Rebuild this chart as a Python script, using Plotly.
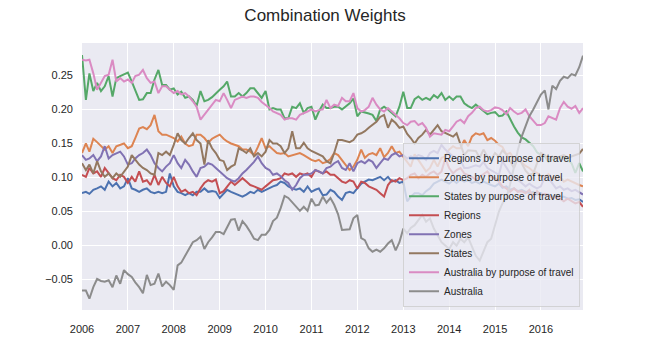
import pandas as pd
import plotly.graph_objects as go

months = pd.date_range("2006-01-01", periods=132, freq="MS")

regions_purpose = [
    0.077, 0.079, 0.076, 0.082, 0.084, 0.087, 0.082, 0.094, 0.087, 0.092, 0.084, 0.087,
    0.099, 0.084, 0.082, 0.079, 0.082, 0.084, 0.079, 0.077, 0.079, 0.077, 0.079, 0.106,
    0.087, 0.079, 0.077, 0.074, 0.077, 0.074, 0.079, 0.079, 0.084, 0.079, 0.080, 0.079,
    0.070, 0.077, 0.082, 0.079, 0.077, 0.074, 0.072, 0.075, 0.079, 0.077, 0.082, 0.079,
    0.082, 0.084, 0.087, 0.089, 0.094, 0.092, 0.087, 0.084, 0.082, 0.084, 0.079, 0.087,
    0.079, 0.082, 0.084, 0.074, 0.075, 0.082, 0.079, 0.072, 0.067, 0.077, 0.079, 0.077,
    0.084, 0.091, 0.094, 0.097, 0.096, 0.099, 0.101, 0.096, 0.101, 0.094, 0.096, 0.092,
    0.094, 0.065, 0.072, 0.077, 0.077, 0.074, 0.080, 0.084, 0.091, 0.094, 0.097, 0.094,
    0.091, 0.096, 0.092, 0.097, 0.094, 0.096, 0.092, 0.094, 0.091, 0.094, 0.091, 0.089,
    0.087, 0.091, 0.085, 0.087, 0.082, 0.084, 0.080, 0.082, 0.079, 0.077, 0.079, 0.075,
    0.077, 0.074, 0.075, 0.072, 0.074, 0.070, 0.072, 0.069, 0.070, 0.067, 0.068, 0.064,
]

zones_purpose = [
    0.136, 0.150, 0.138, 0.157, 0.152, 0.146, 0.141, 0.146, 0.136, 0.146, 0.148, 0.150,
    0.143, 0.146, 0.158, 0.172, 0.174, 0.171, 0.177, 0.192, 0.168, 0.163, 0.163, 0.160,
    0.158, 0.153, 0.160, 0.150, 0.146, 0.148, 0.163, 0.163, 0.158, 0.151, 0.157, 0.160,
    0.163, 0.157, 0.153, 0.150, 0.148, 0.146, 0.141, 0.141, 0.138, 0.133, 0.145, 0.158,
    0.143, 0.146, 0.141, 0.136, 0.135, 0.136, 0.131, 0.133, 0.134, 0.136, 0.133, 0.129,
    0.126, 0.124, 0.126, 0.121, 0.123, 0.127, 0.136, 0.133, 0.126, 0.119, 0.111, 0.116,
    0.126, 0.141, 0.129, 0.134, 0.136, 0.133, 0.143, 0.130, 0.136, 0.146, 0.136, 0.138,
    0.131, 0.124, 0.116, 0.134, 0.126, 0.116, 0.109, 0.114, 0.126, 0.116, 0.129, 0.131,
    0.141, 0.146, 0.143, 0.143, 0.155, 0.146, 0.160, 0.165, 0.163, 0.165, 0.155, 0.158,
    0.154, 0.148, 0.145, 0.134, 0.136, 0.128, 0.128, 0.122, 0.117, 0.114, 0.109, 0.107,
    0.102, 0.100, 0.105, 0.100, 0.098, 0.101, 0.094, 0.097, 0.094, 0.092, 0.089, 0.087,
]

states_purpose = [
    0.280, 0.214, 0.253, 0.227, 0.239, 0.227, 0.234, 0.249, 0.219, 0.246, 0.249, 0.251,
    0.254, 0.241, 0.227, 0.214, 0.215, 0.224, 0.224, 0.244, 0.258, 0.236, 0.236, 0.229,
    0.231, 0.222, 0.226, 0.217, 0.219, 0.214, 0.205, 0.227, 0.212, 0.214, 0.218, 0.224,
    0.229, 0.234, 0.241, 0.219, 0.219, 0.224, 0.219, 0.224, 0.231, 0.231, 0.224, 0.217,
    0.227, 0.200, 0.202, 0.200, 0.200, 0.187, 0.187, 0.204, 0.202, 0.209, 0.195, 0.202,
    0.204, 0.185, 0.197, 0.207, 0.202, 0.202, 0.204, 0.204, 0.200, 0.204, 0.209, 0.216,
    0.190, 0.197, 0.195, 0.194, 0.192, 0.183, 0.200, 0.204, 0.200, 0.195, 0.190, 0.204,
    0.226, 0.202, 0.202, 0.215, 0.219, 0.214, 0.217, 0.214, 0.221, 0.217, 0.224, 0.214,
    0.219, 0.214, 0.219, 0.219, 0.209, 0.205, 0.202, 0.207, 0.202, 0.197, 0.193, 0.195,
    0.196, 0.190, 0.191, 0.197, 0.185, 0.175, 0.166, 0.159, 0.156, 0.151, 0.146, 0.137,
    0.133, 0.131, 0.123, 0.127, 0.129, 0.130, 0.131, 0.126, 0.121, 0.107, 0.121, 0.109,
]

regions = [
    0.104, 0.101, 0.114, 0.106, 0.109, 0.101, 0.114, 0.106, 0.099, 0.096, 0.104, 0.101,
    0.092, 0.101, 0.094, 0.109, 0.094, 0.096, 0.089, 0.104, 0.089, 0.101, 0.092, 0.087,
    0.101, 0.087, 0.079, 0.082, 0.077, 0.079, 0.074, 0.084, 0.092, 0.096, 0.094, 0.097,
    0.077, 0.080, 0.087, 0.094, 0.089, 0.094, 0.099, 0.094, 0.089, 0.087, 0.084, 0.082,
    0.087, 0.092, 0.096, 0.097, 0.099, 0.106, 0.104, 0.106, 0.101, 0.106, 0.104, 0.106,
    0.101, 0.111, 0.109, 0.106, 0.109, 0.104, 0.104, 0.099, 0.094, 0.092, 0.096, 0.094,
    0.084, 0.094, 0.092, 0.087, 0.084, 0.082, 0.077, 0.072, 0.089, 0.096, 0.094, 0.099,
    0.096, 0.099, 0.104, 0.106, 0.099, 0.104, 0.101, 0.106, 0.109, 0.104, 0.109, 0.128,
    0.114, 0.106, 0.111, 0.114, 0.106, 0.104, 0.101, 0.097, 0.101, 0.104, 0.109, 0.101,
    0.099, 0.094, 0.087, 0.084, 0.079, 0.084, 0.079, 0.080, 0.077, 0.082, 0.072, 0.080,
    0.074, 0.076, 0.074, 0.069, 0.072, 0.069, 0.065, 0.069, 0.065, 0.062, 0.064, 0.057,
]

zones = [
    0.133, 0.126, 0.128, 0.133, 0.124, 0.131, 0.146, 0.128, 0.133, 0.136, 0.138, 0.131,
    0.119, 0.121, 0.128, 0.133, 0.136, 0.141, 0.133, 0.121, 0.114, 0.109, 0.116, 0.121,
    0.133, 0.121, 0.114, 0.126, 0.119, 0.109, 0.101, 0.114, 0.116, 0.121, 0.119, 0.114,
    0.109, 0.104, 0.099, 0.096, 0.094, 0.099, 0.106, 0.111, 0.117, 0.123, 0.131, 0.121,
    0.114, 0.111, 0.104, 0.106, 0.102, 0.096, 0.092, 0.082, 0.089, 0.099, 0.104, 0.104,
    0.106, 0.111, 0.109, 0.106, 0.114, 0.116, 0.121, 0.124, 0.114, 0.111, 0.121, 0.109,
    0.121, 0.124, 0.121, 0.126, 0.123, 0.114, 0.121, 0.128, 0.126, 0.133, 0.136, 0.131,
    0.133, 0.128, 0.131, 0.129, 0.133, 0.131, 0.126, 0.136, 0.139, 0.136, 0.148, 0.141,
    0.136, 0.131, 0.128, 0.126, 0.114, 0.114, 0.116, 0.118, 0.116, 0.123, 0.114, 0.111,
    0.108, 0.104, 0.124, 0.114, 0.106, 0.101, 0.097, 0.092, 0.087, 0.091, 0.087, 0.084,
    0.087, 0.101, 0.099, 0.092, 0.084, 0.087, 0.082, 0.084, 0.080, 0.082, 0.079, 0.075,
]

states = [
    0.121, 0.111, 0.119, 0.106, 0.124, 0.109, 0.101, 0.106, 0.099, 0.106, 0.101, 0.109,
    0.116, 0.133, 0.126, 0.119, 0.114, 0.111, 0.106, 0.104, 0.136, 0.133, 0.138, 0.133,
    0.148, 0.165, 0.155, 0.150, 0.158, 0.165, 0.155, 0.150, 0.119, 0.155, 0.143, 0.136,
    0.126, 0.124, 0.111, 0.116, 0.119, 0.143, 0.140, 0.136, 0.143, 0.131, 0.136, 0.131,
    0.138, 0.155, 0.150, 0.150, 0.146, 0.136, 0.143, 0.168, 0.143, 0.143, 0.151, 0.143,
    0.139, 0.136, 0.134, 0.131, 0.124, 0.121, 0.136, 0.155, 0.155, 0.153, 0.152, 0.155,
    0.163, 0.165, 0.168, 0.173, 0.177, 0.182, 0.189, 0.192, 0.173, 0.185, 0.180, 0.173,
    0.175, 0.164, 0.158, 0.150, 0.158, 0.163, 0.170, 0.163, 0.170, 0.177, 0.168, 0.165,
    0.163, 0.160, 0.165, 0.148, 0.133, 0.140, 0.140, 0.139, 0.129, 0.141, 0.131, 0.126,
    0.136, 0.131, 0.140, 0.134, 0.124, 0.114, 0.128, 0.121, 0.110, 0.104, 0.106, 0.121,
    0.136, 0.133, 0.126, 0.131, 0.128, 0.131, 0.133, 0.129, 0.131, 0.134, 0.135, 0.142,
]

australia_purpose = [
    0.273, 0.272, 0.273, 0.253, 0.229, 0.239, 0.249, 0.251, 0.273, 0.241, 0.246, 0.241,
    0.244, 0.239, 0.249, 0.251, 0.258, 0.246, 0.239, 0.241, 0.224, 0.234, 0.234, 0.229,
    0.224, 0.227, 0.222, 0.224, 0.219, 0.212, 0.204, 0.185, 0.192, 0.200, 0.207, 0.214,
    0.212, 0.224, 0.214, 0.202, 0.214, 0.217, 0.219, 0.217, 0.219, 0.219, 0.217, 0.211,
    0.207, 0.202, 0.197, 0.195, 0.192, 0.185, 0.187, 0.187, 0.185, 0.192, 0.194, 0.197,
    0.200, 0.197, 0.199, 0.200, 0.214, 0.202, 0.207, 0.205, 0.217, 0.212, 0.212, 0.224,
    0.202, 0.197, 0.199, 0.204, 0.217, 0.207, 0.200, 0.197, 0.202, 0.197, 0.192, 0.187,
    0.180, 0.177, 0.182, 0.183, 0.177, 0.180, 0.173, 0.160, 0.165, 0.164, 0.163, 0.170,
    0.168, 0.175, 0.182, 0.185, 0.180, 0.190, 0.195, 0.202, 0.204, 0.199, 0.197, 0.199,
    0.203, 0.202, 0.199, 0.193, 0.202, 0.197, 0.193, 0.195, 0.200, 0.190, 0.183, 0.177,
    0.177, 0.180, 0.190, 0.187, 0.185, 0.202, 0.211, 0.204, 0.201, 0.205, 0.195, 0.202,
]

australia = [
    -0.066, -0.066, -0.078, -0.061, -0.049, -0.052, -0.053, -0.051, -0.061, -0.044, -0.056, -0.036,
    -0.042, -0.046, -0.054, -0.061, -0.070, -0.043, -0.058, -0.056, -0.041, -0.060, -0.053, -0.058,
    -0.065, -0.029, -0.025, -0.015, -0.007, 0.005, 0.008, 0.013, -0.005, 0.005, 0.012, 0.020,
    0.020, 0.017, 0.027, 0.038, 0.039, 0.022, 0.036, 0.029, 0.020, 0.010, 0.008, 0.016,
    0.016, 0.023, 0.036, 0.041, 0.055, 0.073, 0.070, 0.064, 0.057, 0.051, 0.057, 0.051,
    0.069, 0.059, 0.060, 0.072, 0.063, 0.070, 0.060, 0.046, 0.023, 0.023, 0.024, 0.040,
    0.045, 0.011, 0.008, -0.004, -0.009, -0.006, -0.009, -0.004, 0.003, 0.008, -0.007, 0.005,
    0.025, 0.018, 0.026, 0.030, 0.037, 0.045, 0.035, 0.040, 0.025, 0.015, 0.005, 0.000,
    -0.005, 0.005, 0.000, 0.010, 0.005, 0.012, 0.000, -0.015, -0.022, -0.010, 0.005, 0.010,
    0.030, 0.050, 0.062, 0.070, 0.090, 0.115, 0.140, 0.160, 0.175, 0.190, 0.200, 0.210,
    0.222, 0.228, 0.200, 0.235, 0.230, 0.242, 0.248, 0.246, 0.252, 0.250, 0.262, 0.279,
]

series_names = [
    "Regions by purpose of travel",
    "Zones by purpose of travel",
    "States by purpose of travel",
    "Regions",
    "Zones",
    "States",
    "Australia by purpose of travel",
    "Australia",
]
series_values = [regions_purpose, zones_purpose, states_purpose, regions,
                 zones, states, australia_purpose, australia]
colors = ["#4C72B0", "#DD8452", "#55A868", "#C44E52",
          "#8172B3", "#937860", "#DA8BC3", "#8C8C8C"]

year_ticks = pd.date_range("2006-01-01", "2016-01-01", freq="YS")
ytick_vals = [-0.05, 0.0, 0.05, 0.10, 0.15, 0.20, 0.25]

fig = go.Figure()
for name, vals, col in zip(series_names, series_values, colors):
    fig.add_trace(go.Scatter(x=months, y=vals, mode="lines", name=name,
                             line=dict(color=col, width=2)))

W, H = 650, 350
font_family = "Liberation Sans, Arial, DejaVu Sans, sans-serif"
fig.update_layout(
    width=W, height=H,
    margin=dict(l=82, r=67, t=43, b=40, autoexpand=False),
    paper_bgcolor="white",
    plot_bgcolor="#EAEAF2",
    font=dict(family=font_family, color="#262626", size=11),
    title=dict(text="Combination Weights", x=0.5, xref="container", xanchor="center",
               y=1 - 15 / H, yref="container", yanchor="middle",
               font=dict(size=17, color="#262626", family=font_family)),
    showlegend=True,
    legend=dict(x=0.994, y=0.012, xanchor="right", yanchor="bottom",
                bgcolor="rgba(234,234,242,0.8)", bordercolor="rgba(204,204,204,0.8)",
                borderwidth=1, font=dict(size=10, color="#262626"),
                itemwidth=30, tracegroupgap=0),
)
fig.update_xaxes(
    range=[months[0], months[-1]],
    tickvals=year_ticks, tickformat="%Y",
    showgrid=True, gridcolor="white", gridwidth=1,
    zeroline=False, showline=False, ticks="", ticklabelstandoff=11,
    tickfont=dict(size=11, color="#262626"), automargin=False,
)
fig.update_yaxes(
    range=[-0.0946, 0.2976],
    tickvals=ytick_vals, tickformat=".2f",
    showgrid=True, gridcolor="white", gridwidth=1,
    zeroline=False, showline=False, ticks="", ticklabelstandoff=8,
    tickfont=dict(size=11, color="#262626"), automargin=False,
)

# remove the browser's default 8px body margin so the figure fills the window
fig.write_html("out.html", config={"displayModeBar": False},
               post_script="document.body.style.margin='0px';")
